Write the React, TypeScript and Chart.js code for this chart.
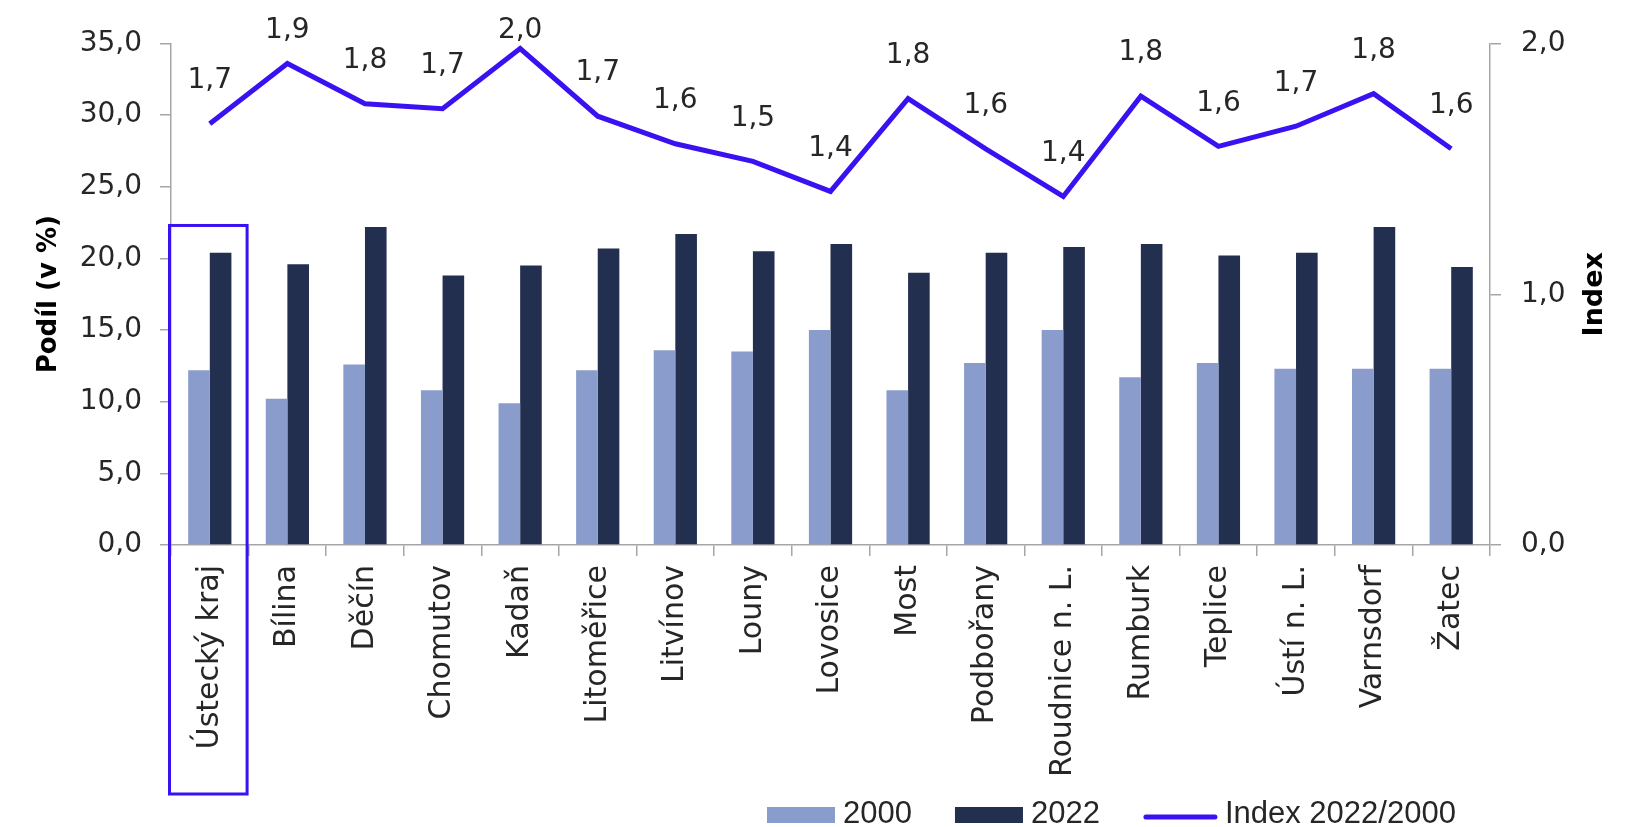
import React, { useEffect, useRef } from "react";
import { Chart, registerables } from "chart.js";

Chart.register(...registerables);

const categories = [
  "Ústecký kraj", "Bílina", "Děčín", "Chomutov", "Kadaň", "Litoměřice", "Litvínov", "Louny",
  "Lovosice", "Most", "Podbořany", "Roudnice n. L.", "Rumburk", "Teplice", "Ústí n. L.", "Varnsdorf", "Žatec",
];
const share2000 = [12.2, 10.2, 12.6, 10.8, 9.9, 12.2, 13.6, 13.5, 15.0, 10.8, 12.7, 15.0, 11.7, 12.7, 12.3, 12.3, 12.3];
const share2022 = [20.4, 19.6, 22.2, 18.8, 19.5, 20.7, 21.7, 20.5, 21.0, 19.0, 20.4, 20.8, 21.0, 20.2, 20.4, 22.2, 19.4];
const indexValues = [1.68, 1.92, 1.76, 1.74, 1.98, 1.71, 1.6, 1.53, 1.41, 1.78, 1.58, 1.39, 1.79, 1.59, 1.67, 1.8, 1.58];
const leftTicks = [0, 5, 10, 15, 20, 25, 30, 35];
const rightTicks = [0, 1, 2];
const seriesLabels = ["2000", "2022", "Index 2022/2000"];
const leftTitle = "Podíl (v %)";
const rightTitle = "Index";
const highlightTop = 22.3;

const C2000 = "#8A9CCB";
const C2022 = "#232F4F";
const CLINE = "#3A12F2";
const AXIS = "#A6A6A6";
const TXT = "#262626";

const fmt = (v: number) => v.toFixed(1).replace(".", ",");

const overlayPlugin = {
  id: "overlay",
  afterDraw(chart: any) {
    const { ctx, chartArea, scales } = chart;
    const x = scales.x;
    const yL = scales.y;
    ctx.save();

    // highlight rectangle around first category
    const half = (x.getPixelForValue(1) - x.getPixelForValue(0)) / 2;
    const cx = x.getPixelForValue(0);
    const left = cx - half - 1.5;
    const right = cx + half - 1.5;
    const top = yL.getPixelForValue(highlightTop);
    const bottom = chartArea.bottom + 249;
    ctx.strokeStyle = CLINE;
    ctx.lineWidth = 3;
    ctx.strokeRect(left, top, right - left, bottom - top);

    // data labels on the line
    const meta = chart.getDatasetMeta(2);
    const vals = chart.data.datasets[2].data as number[];
    ctx.font = '28px "DejaVu Sans"';
    ctx.fillStyle = TXT;
    ctx.textAlign = "center";
    ctx.textBaseline = "middle";
    meta.data.forEach((pt: any, i: number) => {
      ctx.fillText(fmt(vals[i]), pt.x, Math.max(pt.y - 43, chartArea.top - 12.5));
    });

    // right axis title (reads bottom to top)
    ctx.save();
    ctx.translate(1595, (chartArea.top + chartArea.bottom) / 2);
    ctx.rotate(-Math.PI / 2);
    ctx.font = 'bold 27px "DejaVu Sans"';
    ctx.fillStyle = "#000";
    ctx.textAlign = "center";
    ctx.textBaseline = "middle";
    ctx.fillText(rightTitle, 0, 0);
    ctx.restore();

    // legend
    const ds = chart.data.datasets;
    let lx = 767;
    const ly = 815;
    ctx.font = '31px "Liberation Sans"';
    ctx.textAlign = "left";
    ctx.textBaseline = "alphabetic";
    ds.forEach((d: any) => {
      if (d.type === "line") {
        ctx.strokeStyle = d.borderColor;
        ctx.lineWidth = 5;
        ctx.lineCap = "round";
        ctx.beginPath();
        ctx.moveTo(lx + 3, ly + 2);
        ctx.lineTo(lx + 72, ly + 2);
        ctx.stroke();
        lx += 82;
      } else {
        ctx.fillStyle = d.backgroundColor;
        ctx.fillRect(lx, ly - 8, 68, 16);
        lx += 76;
      }
      ctx.fillStyle = TXT;
      ctx.fillText(d.label, lx, ly + 8);
      lx += ctx.measureText(d.label).width + 43;
    });

    ctx.restore();
  },
};

export default function App() {
  const ref = useRef<HTMLCanvasElement | null>(null);

  useEffect(() => {
    if (!ref.current) return;
    const chart = new Chart(ref.current, {
      type: "bar",
      data: {
        labels: categories,
        datasets: [
          {
            type: "bar",
            label: seriesLabels[0],
            data: share2000,
            backgroundColor: C2000,
            yAxisID: "y",
            order: 2,
            categoryPercentage: 0.557,
            barPercentage: 1.0,
          },
          {
            type: "bar",
            label: seriesLabels[1],
            data: share2022,
            backgroundColor: C2022,
            yAxisID: "y",
            order: 2,
            categoryPercentage: 0.557,
            barPercentage: 1.0,
          },
          {
            type: "line",
            label: seriesLabels[2],
            data: indexValues,
            borderColor: CLINE,
            backgroundColor: CLINE,
            borderWidth: 5,
            pointRadius: 0,
            tension: 0,
            yAxisID: "y1",
            order: 0,
          } as any,
        ],
      },
      options: {
        responsive: false,
        animation: false,
        layout: { padding: { top: 43.5, left: 0, right: 0, bottom: 0 } },
        plugins: {
          legend: { display: false },
          tooltip: { enabled: false },
        },
        scales: {
          x: {
            grid: {
              display: true,
              drawOnChartArea: false,
              drawTicks: true,
              tickLength: 11,
              color: AXIS,
              lineWidth: 1.5,
              offset: true,
            },
            border: { display: true, color: AXIS, width: 1.5 },
            ticks: {
              autoSkip: false,
              minRotation: 90,
              maxRotation: 90,
              padding: 9,
              color: TXT,
              font: { family: "DejaVu Sans", size: 30 },
            },
            afterFit: (s: any) => {
              s.height = 282;
            },
          },
          y: {
            position: "left",
            min: 0,
            max: 35,
            grid: {
              display: true,
              drawOnChartArea: false,
              drawTicks: true,
              tickLength: 11,
              color: AXIS,
              lineWidth: 1.5,
            },
            border: { display: true, color: AXIS, width: 1.5 },
            afterBuildTicks: (s: any) => {
              s.ticks = leftTicks.map((v) => ({ value: v }));
            },
            ticks: {
              padding: 18,
              color: TXT,
              font: { family: "DejaVu Sans", size: 28 },
              callback: (v: any) => fmt(Number(v)),
            },
            title: {
              display: true,
              text: leftTitle,
              color: "#000",
              font: { family: "DejaVu Sans", size: 26, weight: "bold" },
              padding: { top: 34, bottom: 0 },
            },
            afterFit: (s: any) => {
              s.width = 171;
            },
          },
          y1: {
            position: "right",
            min: 0,
            max: 2,
            grid: {
              display: true,
              drawOnChartArea: false,
              drawTicks: true,
              tickLength: 11,
              color: AXIS,
              lineWidth: 1.5,
            },
            border: { display: true, color: AXIS, width: 1.5 },
            afterBuildTicks: (s: any) => {
              s.ticks = rightTicks.map((v) => ({ value: v }));
            },
            ticks: {
              padding: 20,
              color: TXT,
              font: { family: "DejaVu Sans", size: 28 },
              callback: (v: any) => fmt(Number(v)),
            },
            afterFit: (s: any) => {
              s.width = 143;
            },
          },
        },
      },
      plugins: [overlayPlugin],
    });
    return () => chart.destroy();
  }, []);

  return (
    <div style={{ position: "fixed", left: 0, top: 0, width: 1633, height: 827, background: "#fff" }}>
      <canvas ref={ref} width={1633} height={827} style={{ width: 1633, height: 827, display: "block" }} />
    </div>
  );
}
